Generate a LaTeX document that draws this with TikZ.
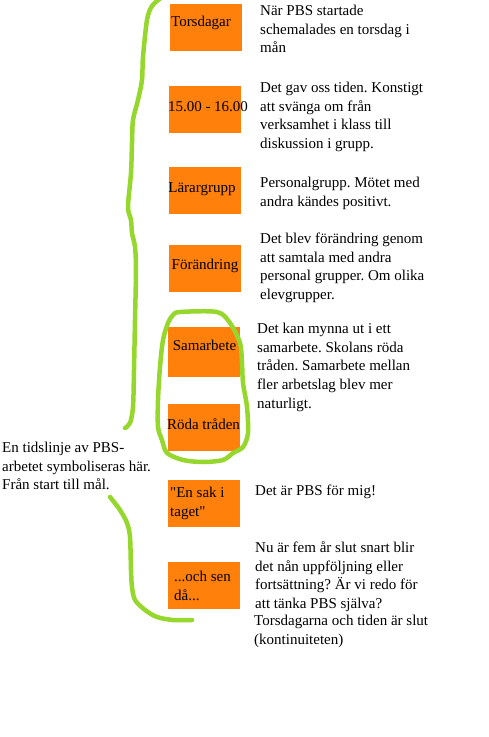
\documentclass[tikz,border=0pt]{standalone}
\usepackage{fontspec}
\setmainfont{Liberation Serif}[Ligatures=TeXOff]
\frenchspacing
\definecolor{boxorange}{RGB}{255,128,10}
\definecolor{markgreen}{RGB}{150,215,45}

\begin{document}
\begin{tikzpicture}[x=1pt, y=-1pt,
  box/.style={fill=boxorange, minimum width=72pt, minimum height=47pt, inner sep=0pt},
  boxtext/.style={font=\fontsize{15}{18.8}\selectfont, inner sep=0pt, anchor=base},
  note/.style={font=\fontsize{15}{18.8}\selectfont, inner sep=0pt, anchor=north west, align=left},
  stroke/.style={draw=markgreen, line width=4.5pt, line cap=round, line join=round}]

\useasboundingbox (0,0) rectangle (488,737);

% orange boxes of the time line
\node[box] (torsdagar) at (205.5,27.5) {};
\node[box] (tid) at (204.5,109) {};
\node[box] (larargrupp) at (204.5,190.5) {};
\node[box] (forandring) at (205,268) {};
\node[box, minimum height=50pt] (samarbete) at (204,352) {};
\node[box] (roda) at (204,427) {};
\node[box] (ensak) at (203.5,503.5) {};
\node[box] (ochsen) at (203.5,585) {};

% texts in the boxes
\node[boxtext] (torsdagar label) at (201,26) {Torsdagar};
\node[boxtext] (tid label) at (208,111) {15.00 - 16.00};
\node[boxtext] (larargrupp label) at (202,192) {Lärargrupp};
\node[boxtext] (forandring label) at (205,269) {Förändring};
\node[boxtext] (samarbete label) at (204.5,350) {Samarbete};
\node[boxtext] (roda label) at (203.5,429) {Röda tråden};
\node[note] (ensak label) at (170,484) {\strut"En sak i\\taget"};
\node[note] (ochsen label) at (174,568) {\strut...och sen\\då...};

% notes on the right
\node[note] (torsdagar note) at (260,2) {\strut När PBS startade\\schemalades en torsdag i\\mån};
\node[note] (tid note) at (260,79) {\strut Det gav oss tiden. Konstigt\\att svänga om från\\verksamhet i klass till\\diskussion i grupp.};
\node[note] (larargrupp note) at (260,174) {\strut Personalgrupp. Mötet med\\andra kändes positivt.};
\node[note] (forandring note) at (260,230) {\strut Det blev förändring genom\\att samtala med andra\\personal grupper. Om olika\\elevgrupper.};
\node[note] (samarbete note) at (257,320) {\strut Det kan mynna ut i ett\\samarbete. Skolans röda\\tråden. Samarbete mellan\\fler arbetslag blev mer\\naturligt.};
\node[note] (ensak note) at (255,482) {\strut Det är PBS för mig!};
\node[note] (ochsen note) at (255,539) {\strut Nu är fem år slut snart blir\\det nån uppföljning eller\\fortsättning? Är vi redo för\\att tänka PBS själva?};
\node[note] (slut note) at (254,612) {\strut Torsdagarna och tiden är slut\\(kontinuiteten)};

% note on the left
\node[note] (tidslinje) at (2,439) {\strut En tidslinje av PBS-\\arbetet symboliseras här.\\Från start till mål.};

% green marks drawn by hand
\draw[stroke] plot[smooth, tension=0.5] coordinates {(162,-3) (152,6) (147,20) (143,57) (142,80) (138,100) (133,120) (132,143) (131,173) (128,207) (131,220) (132,233) (135,247) (136,270) (135,320) (134,370) (133,407) (130,423) (125,428)};
\draw[stroke] plot[smooth cycle, tension=0.5] coordinates {(173,315) (180,312) (217,312) (230,323) (240,343) (242,363) (243,383) (247,407) (248,433) (243,447) (233,453) (223,460) (203,462) (183,460) (167,453) (162,440) (158,427) (158,400) (160,367) (163,340) (168,323)};
\draw[stroke] plot[smooth, tension=0.5] coordinates {(110,497) (120,510) (127,523) (130,537) (131,570) (132,587) (135,600) (145,610) (157,617) (173,620) (192,620)};

\end{tikzpicture}
\end{document}
